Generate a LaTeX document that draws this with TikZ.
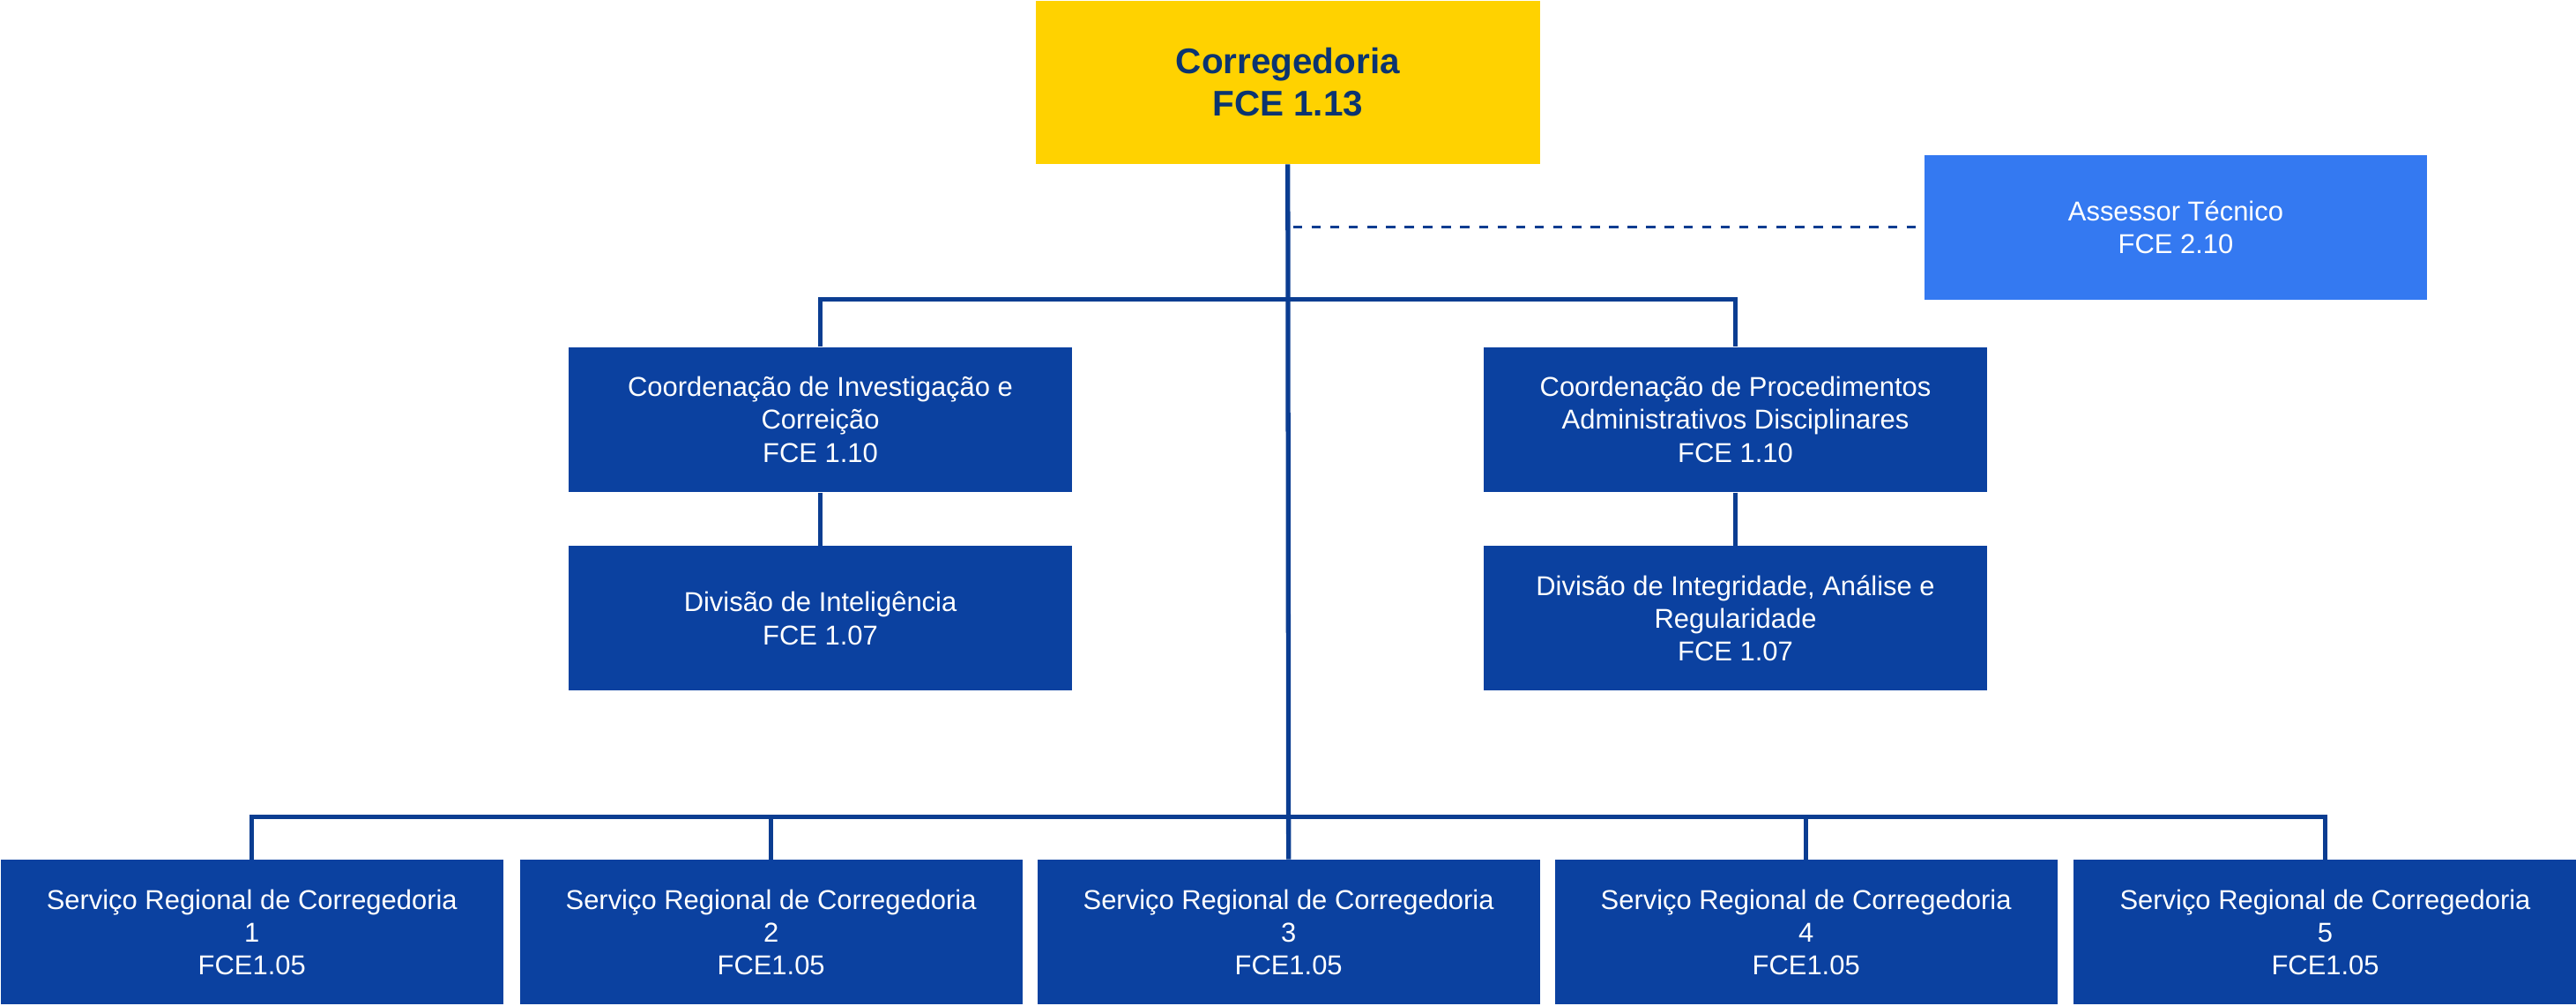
\documentclass[tikz,border=0pt]{standalone}
\usepackage{fontspec}
\setmainfont{Liberation Sans}
\usetikzlibrary{positioning}
\definecolor{boxblue}{HTML}{0B41A0}
\definecolor{lineblue}{HTML}{0B3D91}
\definecolor{lightblue}{HTML}{3479F1}
\definecolor{gold}{HTML}{FFD200}
\definecolor{navy}{HTML}{0B3470}
\tikzset{
  unit/.style={fill=boxblue, text=white, anchor=north west, minimum width=5.70cm,
    minimum height=1.64cm, align=center, inner sep=0pt, font=\fontsize{8.8}{10.6}\selectfont},
  link/.style={draw=lineblue, line width=1.5pt}
}
\begin{document}
\begin{tikzpicture}[x=0.018635cm, y=-0.018635cm]
    \useasboundingbox (0,0) rectangle (1568,612);
    \node[unit, fill=gold, text=navy, minimum width=5.72cm, minimum height=1.85cm,
      font=\fontsize{11.5}{13.5}\selectfont\bfseries] (top) at (630,0) {Corregedoria\\FCE 1.13};
    \node[unit, fill=lightblue] (assessor) at (1171,94) {Assessor Técnico\\FCE 2.10};
    \node[unit] (coordA) at (346,211) {Coordenação de Investigação e\\Correição\\FCE 1.10};
    \node[unit] (coordB) at (903,211) {Coordenação de Procedimentos\\Administrativos Disciplinares\\FCE 1.10};
    \node[unit] (divA) at (346,332) {Divisão de Inteligência\\FCE 1.07};
    \node[unit] (divB) at (903,332) {Divisão de Integridade, Análise e\\Regularidade\\FCE 1.07};
    \foreach \i/\x in {1/0,2/316,3/631,4/946,5/1262}
        \node[unit] (reg\i) at (\x,523) {Serviço Regional de Corregedoria\\\i\\FCE1.05};

    \coordinate (dash) at (787,138);
    \coordinate (busA) at (784,182);
    \coordinate (busB) at (784,497);
    \draw[link] (top.south) -- (reg3.north);
    \draw[draw=lineblue, line width=0.9pt, dashed] (dash) -- (assessor.west |- dash);
    \draw[link] (coordA.north) |- (busA) -| (coordB.north);
    \draw[link] (coordA) -- (divA);
    \draw[link] (coordB) -- (divB);
    \draw[link] (reg1.north) |- (busB) -| (reg5.north);
    \foreach \i in {2,4}
        \draw[link] (reg\i.north) -- (reg\i.north |- busB);
\end{tikzpicture}
\end{document}
